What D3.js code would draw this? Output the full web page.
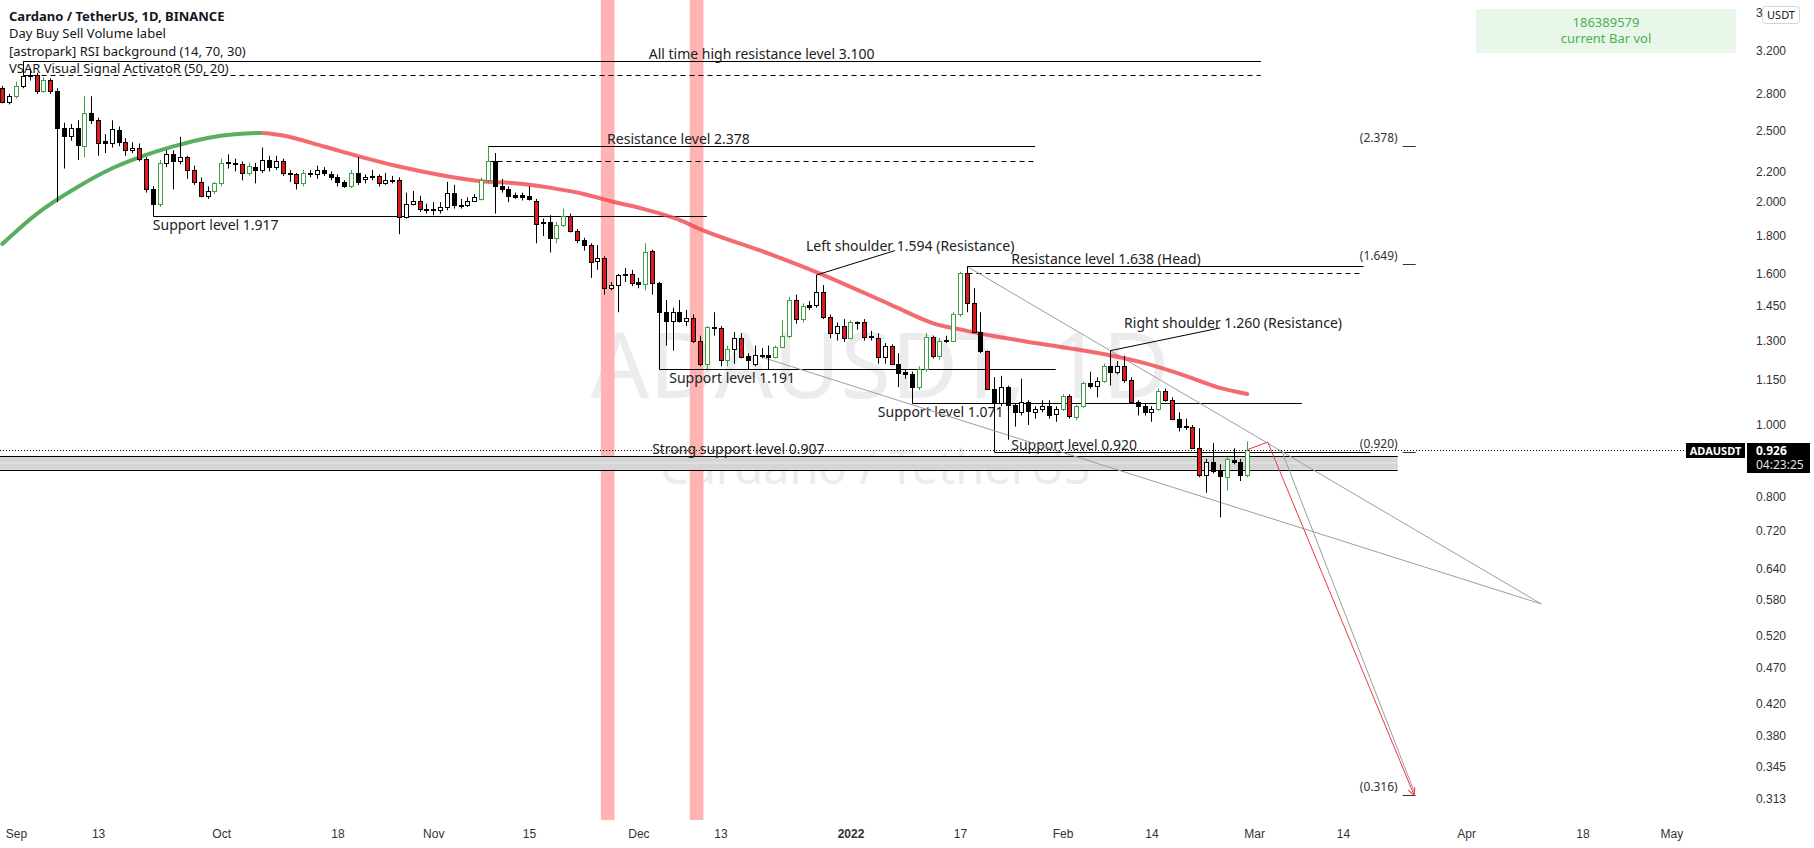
<!DOCTYPE html>
<html lang="en">
<head>
<meta charset="UTF-8">
<title>ADAUSDT 1D</title>
<script src="https://cdnjs.cloudflare.com/ajax/libs/d3/7.8.5/d3.min.js"></script>
<style>
  body { margin: 0; overflow: hidden; background: #fff; }
  svg { font-family: 'Noto Sans', sans-serif; }
  .scale text { font-size: 12px; fill: #333; }
  .note { font-size: 14px; fill: #222; }
  .legend text { font-size: 13px; fill: #131722; }
</style>
</head>
<body>
<div id="chart"></div>
<script>
// ---- daily candles, Aug 30 2021 .. Feb 28 2022 ----
const firstDay = "2021-08-30";

const opens = [
  2.85, 2.73,
  2.78, 2.87, 2.97, 2.97, 2.83, 2.92, 2.83, 2.52, 2.46, 2.52, 2.38, 2.64, 2.58, 2.42, 2.40,
  2.50, 2.41, 2.35, 2.37, 2.29, 2.08, 1.99, 2.26, 2.32, 2.27, 2.30, 2.21, 2.13, 2.04, 2.07,
  2.12, 2.265, 2.26, 2.25, 2.19, 2.23, 2.21, 2.28, 2.23, 2.27, 2.19, 2.18, 2.12, 2.19, 2.18, 2.21,
  2.18, 2.16, 2.13, 2.10, 2.19, 2.15, 2.16, 2.17, 2.12, 2.145, 2.14, 1.91, 1.99, 2.01, 1.96,
  1.96, 1.95, 1.97, 2.06, 1.985, 1.98, 2.01, 2.02, 2.14, 2.27, 2.10, 2.08, 2.045, 2.045, 2.04,
  2.01, 1.88, 1.88, 1.79, 1.86, 1.915, 1.83, 1.78, 1.75, 1.665, 1.68, 1.53, 1.545, 1.595, 1.60,
  1.56, 1.55, 1.72, 1.555, 1.42, 1.38, 1.42, 1.38, 1.395, 1.30, 1.21, 1.355, 1.35, 1.225, 1.267, 1.31,
  1.24, 1.21, 1.245, 1.245, 1.237, 1.275, 1.32, 1.475, 1.39, 1.45, 1.45, 1.51, 1.40, 1.33, 1.36,
  1.31, 1.377, 1.378, 1.318, 1.31, 1.235, 1.28, 1.21, 1.18, 1.17, 1.125, 1.19, 1.315, 1.24, 1.302, 1.30,
  1.41, 1.605, 1.46, 1.337, 1.257, 1.12, 1.07, 1.125, 1.065, 1.04, 1.075, 1.04, 1.05, 1.06, 1.035,
  1.052, 1.095, 1.025, 1.06, 1.14, 1.128, 1.145, 1.20, 1.178, 1.20, 1.15, 1.075, 1.06, 1.04,
  1.05, 1.11, 1.08, 1.02, 0.997, 0.995, 0.932, 0.855, 0.89, 0.87, 0.85, 0.898, 0.89, 0.855
];
const highs = [
  2.87, 2.80,
  2.91, 3.10, 3.03, 2.99, 2.95, 2.94, 2.85, 2.56, 2.55, 2.58, 2.78, 2.78, 2.60, 2.47, 2.58,
  2.53, 2.44, 2.41, 2.40, 2.30, 2.10, 2.28, 2.35, 2.35, 2.45, 2.31, 2.24, 2.16, 2.10, 2.13,
  2.29, 2.32, 2.29, 2.27, 2.26, 2.26, 2.37, 2.31, 2.31, 2.29, 2.21, 2.19, 2.21, 2.21, 2.24, 2.23,
  2.20, 2.18, 2.14, 2.21, 2.30, 2.18, 2.21, 2.18, 2.19, 2.17, 2.16, 2.06, 2.07, 2.04, 1.99,
  2.00, 2.00, 2.13, 2.11, 2.02, 2.03, 2.05, 2.16, 2.378, 2.33, 2.15, 2.10, 2.06, 2.06, 2.10,
  2.02, 1.90, 1.92, 1.88, 1.96, 1.93, 1.84, 1.79, 1.76, 1.75, 1.69, 1.56, 1.60, 1.63, 1.62,
  1.58, 1.76, 1.725, 1.56, 1.475, 1.44, 1.475, 1.43, 1.41, 1.32, 1.36, 1.42, 1.36, 1.28, 1.335, 1.33,
  1.25, 1.28, 1.27, 1.28, 1.28, 1.385, 1.49, 1.50, 1.46, 1.47, 1.594, 1.545, 1.41, 1.375, 1.39,
  1.385, 1.38, 1.39, 1.34, 1.33, 1.29, 1.285, 1.25, 1.19, 1.18, 1.20, 1.33, 1.32, 1.31, 1.32, 1.42,
  1.61, 1.638, 1.53, 1.42, 1.26, 1.16, 1.165, 1.13, 1.07, 1.155, 1.08, 1.06, 1.08, 1.08, 1.06,
  1.10, 1.10, 1.065, 1.145, 1.18, 1.16, 1.21, 1.26, 1.22, 1.24, 1.16, 1.08, 1.07, 1.06,
  1.12, 1.12, 1.09, 1.04, 1.02, 1.00, 0.99, 0.90, 0.945, 0.885, 0.905, 0.93, 0.90, 0.95
];
const lows = [
  2.72, 2.71,
  2.76, 2.85, 2.92, 2.80, 2.81, 2.80, 2.00, 2.22, 2.42, 2.28, 2.30, 2.55, 2.31, 2.33, 2.37,
  2.38, 2.31, 2.33, 2.27, 2.06, 1.96, 1.97, 2.23, 2.08, 2.25, 2.15, 2.11, 2.03, 2.02, 2.05,
  2.10, 2.22, 2.20, 2.14, 2.17, 2.12, 2.19, 2.20, 2.21, 2.17, 2.13, 2.08, 2.10, 2.16, 2.15, 2.17,
  2.14, 2.10, 2.09, 2.09, 2.11, 2.12, 2.14, 2.10, 2.11, 2.12, 1.81, 1.90, 1.98, 1.94, 1.93,
  1.92, 1.93, 1.95, 1.96, 1.96, 1.97, 2.00, 2.01, 2.12, 1.93, 2.06, 2.00, 2.02, 2.01, 2.01,
  1.76, 1.80, 1.71, 1.76, 1.85, 1.82, 1.76, 1.72, 1.58, 1.62, 1.50, 1.52, 1.42, 1.56, 1.54,
  1.53, 1.52, 1.50, 1.191, 1.28, 1.26, 1.375, 1.36, 1.29, 1.20, 1.19, 1.32, 1.20, 1.20, 1.21, 1.23,
  1.19, 1.20, 1.23, 1.19, 1.23, 1.27, 1.31, 1.37, 1.375, 1.43, 1.44, 1.39, 1.31, 1.30, 1.295,
  1.305, 1.345, 1.30, 1.30, 1.21, 1.21, 1.205, 1.125, 1.155, 1.071, 1.115, 1.18, 1.23, 1.225, 1.29, 1.295,
  1.40, 1.42, 1.33, 1.25, 1.115, 1.035, 1.06, 0.955, 0.995, 1.03, 1.00, 1.02, 1.04, 1.02, 1.01,
  1.045, 1.02, 1.015, 1.055, 1.12, 1.09, 1.14, 1.13, 1.17, 1.14, 1.07, 1.03, 1.03, 1.01,
  1.045, 1.075, 1.015, 0.98, 0.985, 0.93, 0.85, 0.81, 0.86, 0.75, 0.815, 0.885, 0.84, 0.85
];
const closes = [
  2.73, 2.78,
  2.87, 2.96, 2.96, 2.83, 2.92, 2.83, 2.52, 2.46, 2.52, 2.39, 2.64, 2.58, 2.40, 2.40, 2.51,
  2.41, 2.35, 2.37, 2.29, 2.08, 1.99, 2.26, 2.32, 2.27, 2.30, 2.21, 2.13, 2.04, 2.07, 2.12,
  2.26, 2.26, 2.25, 2.19, 2.24, 2.21, 2.28, 2.23, 2.27, 2.19, 2.18, 2.12, 2.19, 2.18, 2.21, 2.19,
  2.16, 2.13, 2.10, 2.19, 2.13, 2.16, 2.17, 2.12, 2.14, 2.14, 1.91, 1.99, 2.01, 1.96, 1.95,
  1.95, 1.97, 2.06, 1.98, 1.98, 2.01, 2.03, 2.14, 2.27, 2.10, 2.08, 2.04, 2.035, 2.03, 2.02,
  1.87, 1.875, 1.79, 1.86, 1.915, 1.83, 1.78, 1.75, 1.66, 1.68, 1.53, 1.545, 1.595, 1.60, 1.555,
  1.55, 1.715, 1.555, 1.42, 1.38, 1.42, 1.38, 1.395, 1.30, 1.21, 1.355, 1.35, 1.225, 1.267, 1.31, 1.235,
  1.225, 1.245, 1.24, 1.237, 1.275, 1.32, 1.475, 1.39, 1.448, 1.445, 1.51, 1.40, 1.33, 1.36, 1.31,
  1.378, 1.373, 1.315, 1.314, 1.235, 1.28, 1.21, 1.177, 1.17, 1.125, 1.19, 1.315, 1.24, 1.30, 1.298, 1.41,
  1.605, 1.46, 1.335, 1.257, 1.12, 1.07, 1.125, 1.065, 1.04, 1.075, 1.045, 1.05, 1.06, 1.032, 1.052,
  1.095, 1.027, 1.06, 1.14, 1.128, 1.145, 1.20, 1.178, 1.20, 1.15, 1.075, 1.06, 1.04, 1.05,
  1.11, 1.08, 1.02, 0.995, 0.995, 0.932, 0.855, 0.89, 0.866, 0.852, 0.90, 0.89, 0.855, 0.926
];
// 1 = bar flagged by the volume indicator (green / red bar colour)
const volSpike = [
  1, 0,
  1, 0, 0, 1, 1, 1, 0, 0, 0, 0, 1, 0, 1, 0, 0, 0, 1, 0, 1, 1, 0, 1, 0, 0, 0, 1, 1, 1, 0, 1,
  1, 0, 0, 1, 1, 0, 0, 0, 0, 1, 0, 1, 1, 0, 0, 0, 0, 0, 0, 1, 0, 0, 0, 1, 0, 0, 1, 0, 0, 1, 0,
  0, 0, 0, 0, 0, 0, 0, 1, 1, 0, 0, 0, 0, 0, 0, 1, 0, 0, 1, 1, 1, 1, 0, 1, 0, 1, 0, 0, 0, 1,
  0, 1, 1, 0, 0, 0, 0, 0, 1, 1, 1, 0, 1, 1, 0, 1, 0, 0, 0, 0, 1, 1, 1, 1, 1, 0, 0, 1, 1, 0, 1,
  1, 0, 1, 0, 1, 0, 1, 0, 0, 0, 1, 1, 1, 1, 0, 1, 1, 1, 1, 0, 1, 0, 0, 0, 0, 0, 0, 0, 0, 0, 0,
  1, 1, 1, 1, 0, 0, 1, 0, 0, 1, 1, 0, 0, 0, 1, 1, 1, 0, 0, 1, 1, 0, 0, 0, 1, 0, 0, 1
];

// VSAR moving average, read at sample dates
const maDates = ["2021-08-30", "2021-09-04", "2021-09-10", "2021-09-15", "2021-09-19", "2021-09-24",
  "2021-09-29", "2021-10-03", "2021-10-07", "2021-10-10", "2021-10-16", "2021-10-21", "2021-10-27",
  "2021-11-02", "2021-11-08", "2021-11-13", "2021-11-18", "2021-11-23", "2021-11-27", "2021-12-02",
  "2021-12-07", "2021-12-10", "2021-12-19", "2021-12-27", "2022-01-07", "2022-01-13", "2022-01-18",
  "2022-01-29", "2022-02-07", "2022-02-13", "2022-02-19", "2022-02-24", "2022-02-28"];
const maValues = [1.756, 1.927, 2.096, 2.220, 2.298, 2.378, 2.442, 2.470, 2.480, 2.460, 2.378, 2.308,
  2.234, 2.176, 2.134, 2.121, 2.092, 2.051, 2.005, 1.955, 1.892, 1.839, 1.718, 1.609, 1.452, 1.373,
  1.340, 1.286, 1.247, 1.212, 1.165, 1.122, 1.101];

// RSI background (oversold) days
const rsiBands = [["2021-11-26", "2021-11-27"], ["2021-12-09", "2021-12-10"]];

// axes
const xTickDates = ["2021-09-01", "2021-09-13", "2021-10-01", "2021-10-18", "2021-11-01", "2021-11-15",
  "2021-12-01", "2021-12-13", "2022-01-01", "2022-01-17", "2022-02-01", "2022-02-14", "2022-03-01",
  "2022-03-14", "2022-04-01", "2022-04-18", "2022-05-01"];
const xTickLabels = ["Sep", "13", "Oct", "18", "Nov", "15", "Dec", "13", "2022", "17", "Feb", "14",
  "Mar", "14", "Apr", "18", "May"];
const yTicks = [3.6, 3.2, 2.8, 2.5, 2.2, 2.0, 1.8, 1.6, 1.45, 1.3, 1.15, 1.0, 0.9, 0.8, 0.72, 0.64,
  0.58, 0.52, 0.47, 0.42, 0.38, 0.345, 0.313];

// drawings
const levelLines = [
  { label: "All time high resistance level 3.100", price: 3.100, second: 2.97, from: "2021-09-02", to: "2022-03-02", labelAt: "2021-12-02T12", side: "above" },
  { label: "Resistance level 2.378", price: 2.378, second: 2.275, from: "2021-11-09", to: "2022-01-28", labelAt: "2021-11-26T10", side: "above" },
  { label: "Support level 1.917", price: 1.917, second: null, from: "2021-09-21", to: "2021-12-11", labelAt: "2021-09-21", side: "below" },
  { label: "Resistance level 1.638 (Head)", price: 1.638, second: 1.605, from: "2022-01-18", to: "2022-03-17", labelAt: "2022-01-24T12", side: "above" },
  { label: "Support level 1.191", price: 1.191, second: null, from: "2021-12-04", to: "2022-01-31", labelAt: "2021-12-05T12", side: "below" },
  { label: "Support level 1.071", price: 1.071, second: null, from: "2022-01-10", to: "2022-03-08", labelAt: "2022-01-05", side: "below" },
  { label: "Support level 0.920", price: 0.920, second: null, from: "2022-01-22", to: "2022-03-18", labelAt: "2022-01-24T12", side: "above" }
];
const callouts = [
  { label: "Left shoulder 1.594 (Resistance)", a: ["2021-12-27", 1.594], b: ["2022-01-07T12", 1.72], labelAt: ["2021-12-25T12", 1.72] },
  { label: "Right shoulder 1.260 (Resistance)", a: ["2022-02-08", 1.26], b: ["2022-02-24", 1.352], labelAt: ["2022-02-10", 1.352] }
];
const strongZone = { label: "Strong support level 0.907", top: 0.907, bottom: 0.870, from: "2021-08-20", to: "2022-03-22", labelAt: "2021-12-03" };
const priceTags = [2.378, 1.649, 0.920, 0.316];
const tagDate = "2022-03-22";
const wedgeLines = [
  [["2022-01-18", 1.638], ["2022-04-12", 0.573]],
  [["2021-12-19", 1.235], ["2022-04-12", 0.573]],
  [["2022-03-05", 0.925], ["2022-03-24T12", 0.318]]
];
const targetPath = [["2022-02-28", 0.926], ["2022-03-03", 0.948], ["2022-03-24T10", 0.316]];
const lastPrice = 0.926;
const barCountdown = "04:23:25";
const barVolume = "186389579";

// ---- layout ----
const W = 1814, H = 848;
const plotW = 1745, plotH = 820;

const toDate = s => new Date(s.length > 10 ? s + ":00:00Z" : s + "T00:00:00Z");

const x = d3.scaleUtc()
  .domain([toDate("2021-09-01"), toDate("2022-05-01")])
  .range([16, 1671.3]);
const y = d3.scaleLog()
  .domain([3.2, 0.313])
  .range([51, 798.4]);

const bars = opens.map((o, i) => ({
  t: d3.utcDay.offset(toDate(firstDay), i),
  o: o, h: highs[i], l: lows[i], c: closes[i], spike: volSpike[i]
}));

const svg = d3.select("#chart").append("svg")
  .attr("width", W)
  .attr("height", H);

const defs = svg.append("defs");
defs.append("clipPath").attr("id", "plot")
  .append("rect").attr("width", plotW).attr("height", plotH);
defs.append("marker")
  .attr("id", "arrow").attr("viewBox", "0 0 10 10")
  .attr("refX", 9).attr("refY", 5)
  .attr("markerWidth", 9).attr("markerHeight", 9)
  .attr("orient", "auto")
  .append("path").attr("d", "M1,1 L9,5 L1,9")
  .attr("fill", "none").attr("stroke", "#f23645").attr("stroke-width", 1.2);

const plot = svg.append("g").attr("clip-path", "url(#plot)");

// watermark
plot.append("text")
  .attr("x", 880).attr("y", 398)
  .attr("text-anchor", "middle")
  .style("font-size", "92px").style("fill", "#ececee")
  .text("ADAUSDT, 1D");
plot.append("text")
  .attr("x", 875).attr("y", 484)
  .attr("text-anchor", "middle")
  .style("font-size", "47px").style("fill", "#ececee")
  .text("Cardano / TetherUS");

// RSI background
const day = 86400000;
plot.selectAll(".rsi")
  .data(rsiBands)
  .enter().append("rect")
  .attr("x", d => x(new Date(+toDate(d[0]) - day / 2)))
  .attr("width", d => x(new Date(+toDate(d[1]) + day / 2)) - x(new Date(+toDate(d[0]) - day / 2)))
  .attr("y", 0).attr("height", plotH)
  .style("fill", "#ffb3b3");

// strong support zone
const zx0 = x(toDate(strongZone.from)), zx1 = x(toDate(strongZone.to));
plot.append("rect")
  .attr("x", zx0).attr("width", zx1 - zx0)
  .attr("y", y(strongZone.top)).attr("height", y(strongZone.bottom) - y(strongZone.top))
  .style("fill", "#d5d5d5");
plot.append("line")
  .attr("x1", zx0).attr("x2", zx1)
  .attr("y1", (y(strongZone.top) + y(strongZone.bottom)) / 2)
  .attr("y2", (y(strongZone.top) + y(strongZone.bottom)) / 2)
  .style("stroke", "#ececec");
[strongZone.top, strongZone.bottom].forEach(p => {
  plot.append("line")
    .attr("x1", zx0).attr("x2", zx1)
    .attr("y1", Math.round(y(p)) + 0.5).attr("y2", Math.round(y(p)) + 0.5)
    .style("stroke", "#000");
});
plot.append("text").attr("class", "note")
  .attr("x", x(toDate(strongZone.labelAt))).attr("y", y(strongZone.top) - 2)
  .text(strongZone.label);

// current price dotted line
svg.append("line")
  .attr("x1", 0).attr("x2", 1686)
  .attr("y1", Math.round(y(lastPrice)) + 0.5).attr("y2", Math.round(y(lastPrice)) + 0.5)
  .style("stroke", "#000").style("stroke-dasharray", "1,2");

// level lines
const barAt = s => bars.find(b => +b.t === +toDate(s));
levelLines.forEach(d => {
  const x0 = Math.round(x(toDate(d.from))) + 0.5, x1 = x(toDate(d.to));
  const yl = Math.round(y(d.price)) + 0.5;
  plot.append("line").attr("x1", x0).attr("x2", x1).attr("y1", yl).attr("y2", yl)
    .style("stroke", "#000");
  if (d.second) {
    const y2 = Math.round(y(d.second)) + 0.5;
    plot.append("line").attr("x1", x0).attr("x2", x1).attr("y1", y2).attr("y2", y2)
      .style("stroke", "#000").style("stroke-dasharray", "5,4");
    plot.append("line").attr("x1", x0).attr("x2", x0).attr("y1", yl).attr("y2", y2)
      .style("stroke", "#000");
  } else {
    const b = barAt(d.from);
    plot.append("line").attr("x1", x0).attr("x2", x0).attr("y1", y(b.h)).attr("y2", yl)
      .style("stroke", "#000");
  }
  plot.append("text").attr("class", "note")
    .attr("x", x(toDate(d.labelAt)))
    .attr("y", d.side === "above" ? y(d.price) - 2 : y(d.price) + 14)
    .text(d.label);
});

// price tags on the right of the drawings
priceTags.forEach(p => {
  const tx = x(toDate(tagDate));
  plot.append("text")
    .attr("x", tx).attr("y", y(p) - 4)
    .attr("text-anchor", "end")
    .style("font-size", "12px").style("fill", "#333")
    .text("(" + d3.format(".3f")(p) + ")");
  plot.append("line")
    .attr("x1", tx + 5).attr("x2", tx + 18)
    .attr("y1", Math.round(y(p)) + 0.5).attr("y2", Math.round(y(p)) + 0.5)
    .style("stroke", "#333");
});

// wedge and projection
const pt = d => [x(toDate(d[0])), y(d[1])];
wedgeLines.forEach(seg => {
  plot.append("path")
    .attr("d", d3.line()(seg.map(pt)))
    .style("fill", "none").style("stroke", "#9e9e9e").style("stroke-width", 1);
});
plot.append("path")
  .attr("d", d3.line()(targetPath.map(pt)))
  .attr("marker-end", "url(#arrow)")
  .style("fill", "none").style("stroke", "#f23645").style("stroke-width", 1);

// moving average, green while rising, red while falling
const ma = maDates.map((d, i) => ({ t: toDate(d), v: maValues[i] }));
const peak = ma[d3.maxIndex(ma, d => d.v)].t;
defs.append("clipPath").attr("id", "maUp").append("rect")
  .attr("x", 0).attr("width", x(peak)).attr("y", 0).attr("height", plotH);
defs.append("clipPath").attr("id", "maDown").append("rect")
  .attr("x", x(peak)).attr("width", plotW - x(peak)).attr("y", 0).attr("height", plotH);
const maLine = d3.line().x(d => x(d.t)).y(d => y(d.v)).curve(d3.curveMonotoneX);
[["maUp", "rgba(60,160,70,0.85)"], ["maDown", "rgba(240,70,75,0.8)"]].forEach(([id, col]) => {
  plot.append("g").attr("clip-path", `url(#${id})`)
    .append("path")
    .attr("d", maLine(ma))
    .style("fill", "none").style("stroke", col).style("stroke-width", 4)
    .style("stroke-linecap", "round");
});

// callouts
callouts.forEach(d => {
  plot.append("path").attr("d", d3.line()([pt(d.a), pt(d.b)]))
    .style("stroke", "#000").style("fill", "none");
  plot.append("text").attr("class", "note")
    .attr("x", x(toDate(d.labelAt[0]))).attr("y", y(d.labelAt[1]))
    .text(d.label);
});

// candles
const up = d => d.c >= d.o;
const bodyFill = d => up(d) ? "#fff" : (d.spike ? "#e0171b" : "#000");
const bodyStroke = d => up(d) ? (d.spike ? "#3f9f44" : "#000") : "#000";
const candle = plot.append("g").selectAll("g")
  .data(bars)
  .enter().append("g");
candle.append("line")
  .attr("x1", d => Math.round(x(d.t)) + 0.5)
  .attr("x2", d => Math.round(x(d.t)) + 0.5)
  .attr("y1", d => y(d.h))
  .attr("y2", d => y(d.l))
  .style("stroke", d => (up(d) && d.spike) ? "#3f9f44" : "#000");
candle.append("rect")
  .attr("x", d => Math.round(x(d.t)) - 1.5)
  .attr("width", 4)
  .attr("y", d => Math.round(y(Math.max(d.o, d.c))) + 0.5)
  .attr("height", d => Math.max(1, Math.round(y(Math.min(d.o, d.c))) - Math.round(y(Math.max(d.o, d.c)))))
  .style("fill", bodyFill)
  .style("stroke", bodyStroke);

// ---- scales ----
const xAxis = svg.append("g").attr("class", "scale")
  .attr("transform", `translate(0, ${plotH})`)
  .call(d3.axisBottom(x)
    .tickValues(xTickDates.map(toDate))
    .tickFormat((d, i) => xTickLabels[i])
    .tickSize(0).tickPadding(9));
xAxis.select(".domain").remove();
xAxis.selectAll("text").filter((d, i) => xTickLabels[i] === "2022").style("font-weight", "bold");

const yAxis = svg.append("g").attr("class", "scale")
  .attr("transform", `translate(${plotW + 5}, 0)`)
  .call(d3.axisRight(y)
    .tickValues(yTicks)
    .tickFormat(d3.format(".3f"))
    .tickSize(0).tickPadding(6));
yAxis.select(".domain").remove();

// currency button over the top tick
svg.append("rect")
  .attr("x", 1762.5).attr("y", 6.5).attr("width", 37).attr("height", 17).attr("rx", 3)
  .style("fill", "#fff").style("stroke", "#d1d4dc");
svg.append("text")
  .attr("x", 1781).attr("y", 19).attr("text-anchor", "middle")
  .style("font-size", "11px").style("fill", "#131722")
  .text("USDT");

// last price labels
svg.append("rect").attr("x", 1686).attr("y", 443).attr("width", 59).attr("height", 15).style("fill", "#000");
svg.append("text").attr("x", 1715.5).attr("y", 455).attr("text-anchor", "middle")
  .style("font-size", "11px").style("font-weight", "bold").style("fill", "#fff")
  .text("ADAUSDT");
svg.append("rect").attr("x", 1747).attr("y", 443).attr("width", 63).attr("height", 30).style("fill", "#000");
svg.append("text").attr("x", 1756).attr("y", 455)
  .style("font-size", "12px").style("font-weight", "bold").style("fill", "#fff")
  .text(d3.format(".3f")(lastPrice));
svg.append("text").attr("x", 1756).attr("y", 469)
  .style("font-size", "12px").style("fill", "#e0e0e0")
  .text(barCountdown);

// volume box
svg.append("rect").attr("x", 1476).attr("y", 9).attr("width", 260).attr("height", 44)
  .style("fill", "#e8f7ea");
svg.append("text").attr("x", 1606).attr("y", 27).attr("text-anchor", "middle")
  .style("font-size", "13px").style("fill", "#4caf50").text(barVolume);
svg.append("text").attr("x", 1606).attr("y", 43).attr("text-anchor", "middle")
  .style("font-size", "13px").style("fill", "#4caf50").text("current Bar vol");

// legend
const legend = svg.append("g").attr("class", "legend");
const legendLines = ["Cardano / TetherUS, 1D, BINANCE", "Day Buy Sell Volume label",
  "[astropark] RSI background (14, 70, 30)", "VSAR Visual Signal ActivatoR (50, 20)"];
legend.selectAll("text")
  .data(legendLines)
  .enter().append("text")
  .attr("x", 9)
  .attr("y", (d, i) => 21 + i * 17.3)
  .style("font-weight", (d, i) => i === 0 ? "bold" : "normal")
  .text(d => d);
</script>
</body>
</html>
